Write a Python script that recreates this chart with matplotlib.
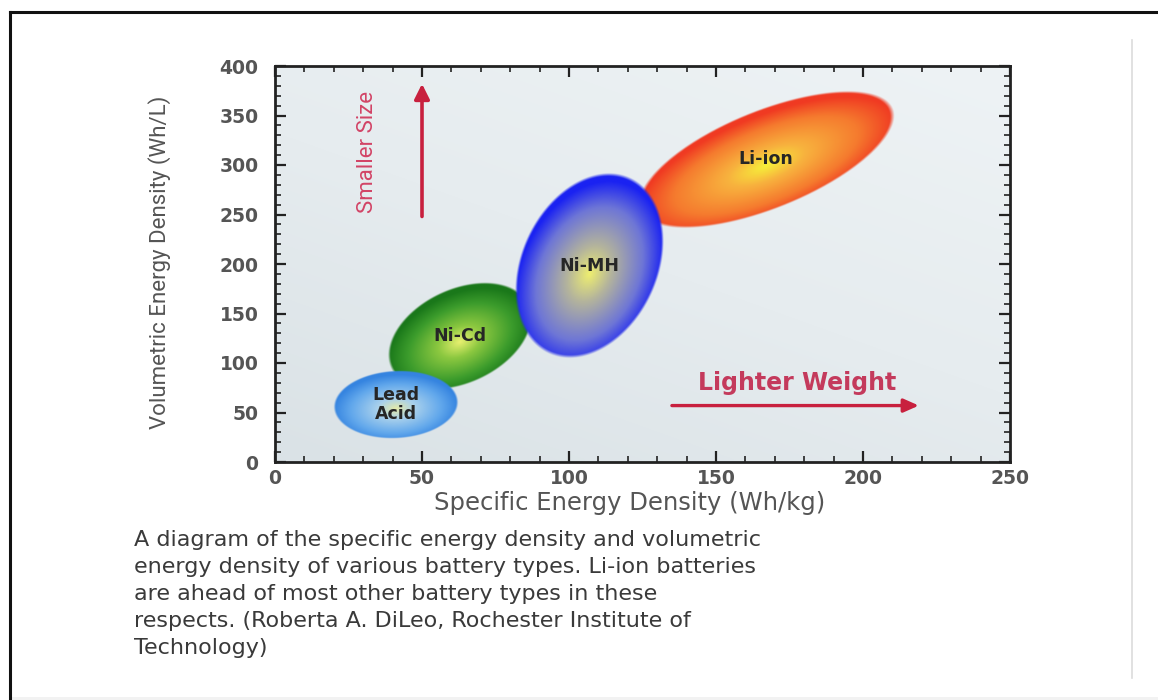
import numpy as np
import matplotlib
matplotlib.use('Agg')
import matplotlib.pyplot as plt
from matplotlib.colors import LinearSegmentedColormap
from matplotlib.lines import Line2D
from matplotlib.patches import Rectangle
from matplotlib.ticker import MultipleLocator

# ---------------- data ----------------
batteries = ['Lead\nAcid', 'Ni-Cd', 'Ni-MH', 'Li-ion']
specific_energy = [41, 63, 107, 167]       # Wh/kg (ellipse centres)
volumetric_energy = [58, 127, 198, 306]    # Wh/L  (ellipse centres)
x_ticks = [0, 50, 100, 150, 200, 250]
y_ticks = [0, 50, 100, 150, 200, 250, 300, 350, 400]
x_label = 'Specific Energy Density (Wh/kg)'
y_label = 'Volumetric Energy Density (Wh/L)'
caption_lines = [
    'A diagram of the specific energy density and volumetric',
    'energy density of various battery types. Li-ion batteries',
    'are ahead of most other battery types in these',
    'respects. (Roberta A. DiLeo, Rochester Institute of',
    'Technology)',
]

# ---------------- styles ----------------
# semi-axes (display-equivalent Wh/L units), rotation (deg), draw order
shape = {
    'Lead\nAcid': dict(a=63, b=34, ang=3, z=5),
    'Ni-Cd': dict(a=77, b=48, ang=25, z=3),
    'Ni-MH': dict(a=98, b=69, ang=65, z=4),
    'Li-ion': dict(a=138, b=50, ang=22, z=2),
}
grad = {
    'Lead\nAcid': ['#e4eaa8', '#a8d0ec', '#62a8ec', '#3584e0'],
    'Ni-Cd': ['#e8f070', '#8cc840', '#3c9c2c', '#1a781a'],
    'Ni-MH': ['#eeee70', '#b4b49c', '#6e76d6', '#1a22f2'],
    'Li-ion': ['#f6f03a', '#f8b23e', '#f57a2e', '#f03a22'],
}

W, H = 1158, 700
fig = plt.figure(figsize=(W / 100, H / 100), dpi=100)
fig.patch.set_facecolor('white')


def fx(px):
    return px / W


def fy(py):
    return 1 - py / H


# page frame
fig.add_artist(Line2D([fx(10), fx(10)], [fy(12), fy(700)], color='#111111', lw=2.2))
fig.add_artist(Line2D([fx(10), fx(1158)], [fy(12), fy(12)], color='#111111', lw=2.2))
fig.add_artist(Line2D([fx(1132), fx(1132)], [fy(40), fy(678)], color='#dcdcdc', lw=1.2))
fig.add_artist(Rectangle((fx(11), 0), 1, fy(697), transform=fig.transFigure,
                         color='#f2f2f2', lw=0, zorder=0))

ax_l, ax_r, ax_t, ax_b = 275, 1010, 66, 462
ax = fig.add_axes([fx(ax_l), fy(ax_b), fx(ax_r - ax_l), (ax_b - ax_t) / H])
ax.set_xlim(x_ticks[0], x_ticks[-1])
ax.set_ylim(y_ticks[0], y_ticks[-1])

# background gradient
bg = LinearSegmentedColormap.from_list('bg', ['#dae2e6', '#e6ecef', '#eef3f5'])
grid = np.linspace(0, 1, 64)
ax.imshow(np.add.outer(grid * 0.6, grid * 0.4), cmap=bg, origin='lower',
          extent=(0, 1, 0, 1), transform=ax.transAxes, aspect='auto', zorder=0,
          interpolation='bilinear')
ax.set_facecolor('#e4eaed')

# pixel aspect ratio of x-unit vs y-unit
r = ((ax_r - ax_l) / (x_ticks[-1] - x_ticks[0])) / ((ax_b - ax_t) / (y_ticks[-1] - y_ticks[0]))


def draw_blob(name, cx, cy):
    s = shape[name]
    a, b, th = s['a'], s['b'], np.deg2rad(s['ang'])
    cmap = LinearSegmentedColormap.from_list(name, list(zip([0, 0.3, 0.72, 1.0], grad[name])))
    hw = np.sqrt((a * np.cos(th)) ** 2 + (b * np.sin(th)) ** 2) * 1.04
    hh = np.sqrt((a * np.sin(th)) ** 2 + (b * np.cos(th)) ** 2) * 1.04
    n = 500
    xs = np.linspace(cx - hw / r, cx + hw / r, n)
    ys = np.linspace(cy - hh, cy + hh, n)
    X, Y = np.meshgrid(xs, ys)
    U = (X - cx) * r
    V = Y - cy
    p = U * np.cos(th) + V * np.sin(th)
    q = -U * np.sin(th) + V * np.cos(th)
    rho = np.sqrt((p / a) ** 2 + (q / b) ** 2)
    Vh = V + 0.12 * b
    ph = U * np.cos(th) + Vh * np.sin(th)
    qh = -U * np.sin(th) + Vh * np.cos(th)
    rho_h = np.sqrt((ph / a) ** 2 + (qh / b) ** 2)
    rgba = cmap(np.clip(rho_h, 0, 1))
    rgba[..., 3] = np.clip((1 - rho) / 0.035, 0, 1)
    ax.imshow(rgba, extent=(xs[0], xs[-1], ys[0], ys[-1]), origin='lower',
              aspect='auto', interpolation='bilinear', zorder=s['z'])


for name, cx, cy in zip(batteries, specific_energy, volumetric_energy):
    draw_blob(name, cx, cy)
    ax.text(cx, cy, name, ha='center', va='center', fontsize=12.5,
            fontweight='bold', color='#262626', linespacing=1.05, zorder=10,
            family='DejaVu Sans')

ax.set_xlim(x_ticks[0], x_ticks[-1])
ax.set_ylim(y_ticks[0], y_ticks[-1])

# arrows and annotations
arrow_col = '#c8203e'
ax.annotate('', xy=(50, 382), xytext=(50, 248),
            arrowprops=dict(arrowstyle='-|>,head_length=0.9,head_width=0.45',
                            lw=2.6, color=arrow_col, shrinkA=0, shrinkB=0), zorder=9)
ax.text(31.5, 313, 'Smaller Size', rotation=90, ha='center', va='center',
        fontsize=16, color='#d24466', family=['Roboto', 'DejaVu Sans'], zorder=9)
ax.annotate('', xy=(219, 57), xytext=(135, 57),
            arrowprops=dict(arrowstyle='-|>,head_length=0.9,head_width=0.4',
                            lw=2.4, color=arrow_col, shrinkA=0, shrinkB=0), zorder=9)
ax.text(177.5, 80, 'Lighter Weight', ha='center', va='center', fontsize=17,
        fontweight='bold', color='#c43a5c', family='DejaVu Sans', zorder=9)

# axes styling
ax.set_xticks(x_ticks)
ax.set_yticks(y_ticks)
ax.xaxis.set_minor_locator(MultipleLocator(10))
ax.yaxis.set_minor_locator(MultipleLocator(10))
ax.tick_params(which='both', direction='in', top=True, right=True, colors='#222222')
ax.tick_params(which='major', length=8, width=1.6, labelsize=13.5, labelcolor='#555555')
ax.tick_params(which='minor', length=4, width=1.2)
ax.tick_params(axis='y', which='major', pad=12)
ax.tick_params(axis='x', which='major', pad=5)
for lab in ax.get_xticklabels() + ax.get_yticklabels():
    lab.set_fontweight('bold')
    lab.set_family('DejaVu Sans')
for sp in ax.spines.values():
    sp.set_linewidth(2)
    sp.set_color('#222222')

fig.text(fx(630), fy(503), x_label, ha='center', va='center', fontsize=17.5,
         color='#555555', family='DejaVu Sans')
fig.text(fx(160), fy(262), y_label, ha='center', va='center', rotation=90,
         fontsize=16, color='#555555', family=['Roboto', 'DejaVu Sans'])

for i, line in enumerate(caption_lines):
    fig.text(fx(134), fy(540 + 27 * i), line, ha='left', va='center', fontsize=16,
             color='#3a3a3a', family='DejaVu Sans')

fig.savefig('out.png', dpi=100)
